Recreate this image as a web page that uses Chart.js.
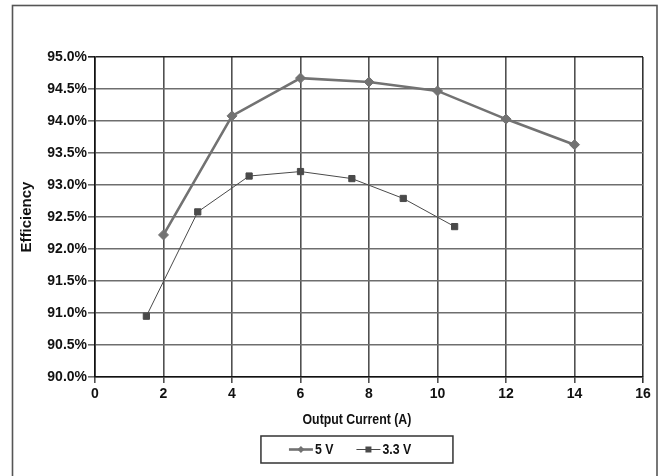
<!DOCTYPE html>
<html>
<head>
<meta charset="utf-8">
<script src="https://cdn.jsdelivr.net/npm/chart.js"></script>
<style>
  html, body { margin: 0; padding: 0; background: #fff; }
  #wrap { position: relative; width: 665px; height: 476px; }
</style>
</head>
<body>
<div id="wrap"><canvas id="eff" width="665" height="476"></canvas></div>
<script>
// efficiency vs load current, two output rails
var current5V = [2, 4, 6, 8, 10, 12, 14];
var eff5V = [92.22, 94.08, 94.67, 94.61, 94.47, 94.03, 93.63];

var current3V3 = [1.5, 3, 4.5, 6, 7.5, 9, 10.5];
var eff3V3 = [90.95, 92.58, 93.14, 93.21, 93.10, 92.79, 92.35];

var seriesNames = ["5 V", "3.3 V"];
var xTicks = [0, 2, 4, 6, 8, 10, 12, 14, 16];
var yTicks = [90.0, 90.5, 91.0, 91.5, 92.0, 92.5, 93.0, 93.5, 94.0, 94.5, 95.0];

var xTitle = "Output Current (A)";
var yTitle = "Efficiency";

var sans = "'Liberation Sans', Arial, sans-serif";

function toPoints(xs, ys){
    var pts = [];
    for (var i = 0; i < xs.length; i++) pts.push({x: xs[i], y: ys[i]});
    return pts;
}

// marker shapes for the legend entries
function marker(ctx, style, x, y, r, color){
    ctx.fillStyle = color;
    ctx.beginPath();
    if (style === 'rectRot') {
        ctx.moveTo(x, y - r); ctx.lineTo(x + r, y);
        ctx.lineTo(x, y + r); ctx.lineTo(x - r, y);
    } else {
        ctx.rect(x - r, y - r, 2 * r, 2 * r);
    }
    ctx.closePath();
    ctx.fill();
}

// text squeezed a little horizontally, like a condensed face
function narrowText(ctx, text, x, y, align){
    var k = 0.88;
    ctx.save();
    ctx.translate(x, y);
    ctx.scale(k, 1);
    ctx.textAlign = align;
    ctx.fillText(text, 0, 0);
    ctx.restore();
    return ctx.measureText(text).width * k;
}

// outer frame
var frame = {
    id: 'frame',
    beforeDraw: function(chart){
        var ctx = chart.ctx;
        ctx.save();
        ctx.strokeStyle = '#555';
        ctx.lineWidth = 1.6;
        ctx.strokeRect(12.5, 5.5, 644.5, 490);
        ctx.restore();
    }
};

// x title and boxed legend under the plot
var footer = {
    id: 'footer',
    afterDraw: function(chart){
        var ctx = chart.ctx, area = chart.chartArea;
        var cx = area.left + area.width * 0.478;
        ctx.save();
        ctx.fillStyle = '#111';
        ctx.font = 'bold 14px ' + sans;
        ctx.textBaseline = 'middle';
        narrowText(ctx, xTitle, cx, area.bottom + 43, 'center');

        var bx = cx - 96, by = area.bottom + 59, bw = 192, bh = 27;
        ctx.strokeStyle = '#333';
        ctx.lineWidth = 1.5;
        ctx.strokeRect(bx, by, bw, bh);

        var ly = by + bh / 2;
        var x = bx + 28;
        chart.data.datasets.forEach(function(ds){
            ctx.strokeStyle = ds.borderColor;
            ctx.lineWidth = ds.borderWidth;
            ctx.beginPath();
            ctx.moveTo(x, ly); ctx.lineTo(x + 24, ly);
            ctx.stroke();
            marker(ctx, ds.pointStyle, x + 12, ly, ds.pointStyle === 'rectRot' ? 3.5 : 3, ds.pointBackgroundColor);
            ctx.fillStyle = '#111';
            var w = narrowText(ctx, ds.label, x + 26, ly + 0.5, 'left');
            x += 26 + w + 23;
        });
        ctx.restore();
    }
};

var ctx = document.getElementById('eff').getContext('2d');
var effChart = new Chart(ctx, {
    type: 'line',
    data: {
        datasets: [{
            label: seriesNames[0],
            data: toPoints(current5V, eff5V),
            borderColor: '#727272',
            borderWidth: 2.6,
            pointStyle: 'rectRot',
            pointRadius: 5,
            pointBackgroundColor: '#727272',
            pointBorderColor: '#727272',
            pointBorderWidth: 1
        }, {
            label: seriesNames[1],
            data: toPoints(current3V3, eff3V3),
            borderColor: '#4a4a4a',
            borderWidth: 1,
            pointStyle: 'rect',
            pointRadius: 4.4,
            pointBackgroundColor: '#4a4a4a',
            pointBorderColor: '#4a4a4a',
            pointBorderWidth: 1
        }]
    },
    options: {
        responsive: false,
        animation: false,
        layout: {padding: {left: 0, right: 22, top: 57, bottom: 0}},
        plugins: {
            legend: {display: false},
            tooltip: {enabled: false}
        },
        scales: {
            x: {
                type: 'linear',
                min: xTicks[0],
                max: xTicks[xTicks.length - 1],
                afterBuildTicks: function(scale){
                    scale.ticks = xTicks.map(function(v){ return {value: v}; });
                },
                afterFit: function(scale){ scale.height = 99; },
                border: {color: '#111', width: 1.6},
                grid: {
                    color: function(c){ return c.tick && c.tick.value === 16 ? '#333' : '#505050'; },
                    lineWidth: 1.6,
                    tickLength: 6
                },
                ticks: {
                    color: '#111',
                    padding: 3,
                    maxRotation: 0,
                    font: {family: sans, size: 14, weight: 'bold'}
                }
            },
            y: {
                min: yTicks[0],
                max: yTicks[yTicks.length - 1],
                afterBuildTicks: function(scale){
                    scale.ticks = yTicks.map(function(v){ return {value: v}; });
                },
                afterFit: function(scale){ scale.width = 95; },
                border: {color: '#111', width: 1.6},
                grid: {
                    color: function(c){ return c.tick && c.tick.value === 95 ? '#222' : '#6e6e6e'; },
                    lineWidth: 1.6,
                    tickLength: 7
                },
                ticks: {
                    color: '#111',
                    padding: 1,
                    font: {family: sans, size: 14, weight: 'bold'},
                    callback: function(v){ return Number(v).toFixed(1) + '%'; }
                },
                title: {
                    display: true,
                    text: yTitle,
                    color: '#111',
                    padding: {top: 18, bottom: 0},
                    font: {family: sans, size: 15, weight: 'bold'}
                }
            }
        }
    },
    plugins: [frame, footer]
});
</script>
</body>
</html>
